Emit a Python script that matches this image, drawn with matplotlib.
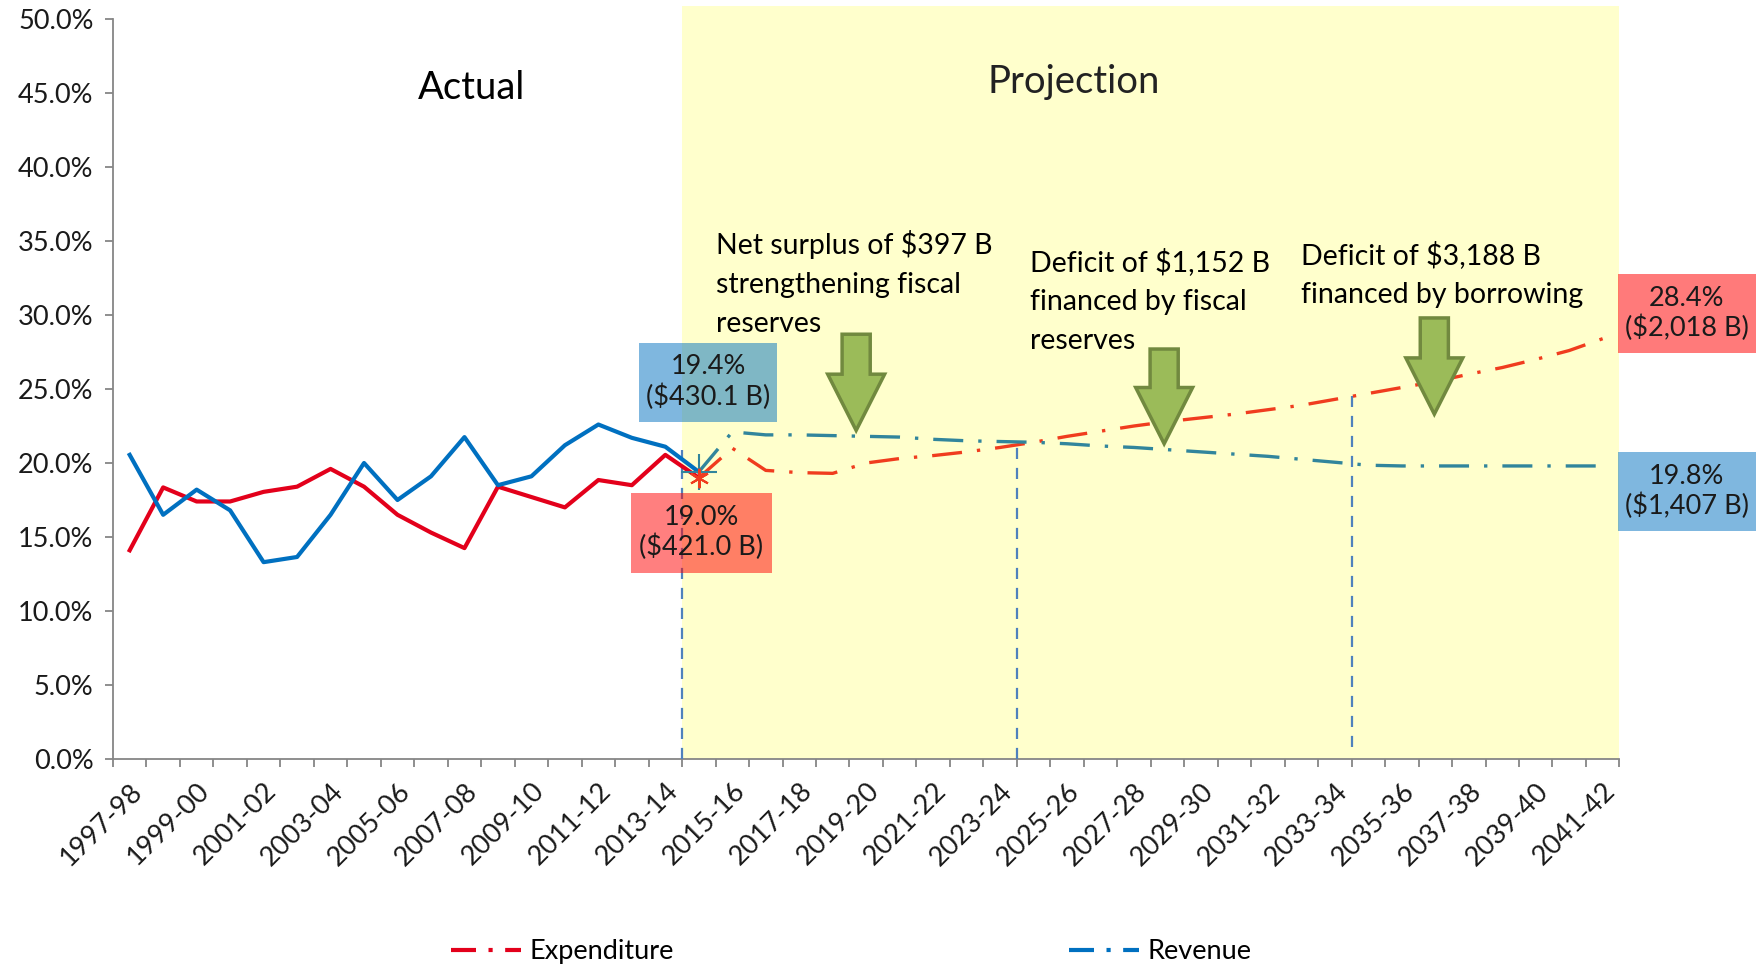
import numpy as np
import matplotlib.pyplot as plt
from matplotlib.patches import Rectangle, FancyArrow
from matplotlib.lines import Line2D

plt.rcParams['font.family'] = ['Lato', 'DejaVu Sans']

# fiscal years on the category axis
fiscal_years = [f"{y}-{str(y + 1)[-2:]}" for y in range(1997, 2042)]

# actual figures, 1997-98 .. 2014-15 (% of GDP)
exp_actual = [14.1, 18.35, 17.4, 17.4, 18.05, 18.4, 19.6, 18.4, 16.5, 15.3,
              14.25, 18.4, 17.7, 17.0, 18.85, 18.5, 20.55, 19.0]
rev_actual = [20.55, 16.5, 18.2, 16.8, 13.3, 13.65, 16.5, 20.0, 17.5, 19.1,
              21.75, 18.5, 19.1, 21.2, 22.6, 21.7, 21.1, 19.4]

# projections, 2014-15 .. 2041-42
exp_proj = [19.0, 21.0, 19.5, 19.35, 19.3, 20.0, 20.3, 20.5, 20.75, 21.05,
            21.4, 21.8, 22.15, 22.5, 22.8, 23.05, 23.3, 23.6, 23.9, 24.3,
            24.7, 25.1, 25.5, 26.0, 26.45, 27.0, 27.6, 28.4]
rev_proj = [19.4, 22.1, 21.9, 21.9, 21.85, 21.8, 21.75, 21.6, 21.5, 21.45,
            21.4, 21.3, 21.15, 21.05, 20.9, 20.75, 20.6, 20.45, 20.25, 20.05,
            19.85, 19.8, 19.8, 19.8, 19.8, 19.8, 19.8, 19.8]

proj_start = fiscal_years.index("2014-15")
divider_years = ["2014-15", "2024-25", "2034-35"]
divider_top = [20.9, 21.4, 24.5]

notes = ["Net surplus of $397 B\nstrengthening fiscal\nreserves",
         "Deficit of $1,152 B\nfinanced by fiscal\nreserves",
         "Deficit of $3,188 B\nfinanced by borrowing"]

x_act = np.arange(len(exp_actual))
x_proj = np.arange(proj_start, proj_start + len(exp_proj))

fig = plt.figure(figsize=(17.62, 9.68), dpi=100)
ax = fig.add_axes([0.0641, 0.2159, 0.855, 0.7645])

ax.set_xlim(-0.5, len(fiscal_years) - 0.5)
ax.set_ylim(0, 50)

# projection shading
ax.add_patch(Rectangle((proj_start - 0.5, 0), len(fiscal_years) - proj_start, 50.9,
                       facecolor='#FFFFCC', edgecolor='none', zorder=0, clip_on=False))

# divider lines
for yr, top, bot in zip(divider_years, divider_top, [0, 0, 0.8]):
    xi = fiscal_years.index(yr) - 0.5
    ax.plot([xi, xi], [bot, top], color='#4F81BD', lw=1.6, ls=(0, (5, 4)), zorder=3)

dashdot = (0, (9, 4.5, 1, 4.5))
ax.plot(x_act, exp_actual, color='#E3001B', lw=3, zorder=4)
ax.plot(x_act, rev_actual, color='#0070C0', lw=3, zorder=4)
ax.plot(x_proj, exp_proj, color='#F03C1E', lw=2.4, ls=dashdot, zorder=4)
ax.plot(x_proj, rev_proj, color='#31859C', lw=2.4, ls=dashdot, zorder=4)
ax.plot(x_proj[0], rev_proj[0], marker='+', ms=26, mew=1.5, color='#31859C', zorder=6)
ax.plot(x_proj[0], exp_proj[0], marker=(6, 2, 0), ms=14, mew=1.5, color='#F03C1E', zorder=6)

# value boxes
boxes = [
    ((15.2, 22.8), 4.15, 5.3, '#0070C0', 0.5, "19.4%\n($430.1 B)"),
    ((14.98, 12.6), 4.2, 5.4, '#FF0000', 0.5, "19.0%\n($421.0 B)"),
    ((44.45, 27.4), 4.12, 5.4, '#FF0000', 0.52, "28.4%\n($2,018 B)"),
    ((44.45, 15.4), 4.12, 5.35, '#0070C0', 0.5, "19.8%\n($1,407 B)"),
]
for (bx, by), bw, bh, col, al, txt in boxes:
    ax.add_patch(Rectangle((bx, by), bw, bh, facecolor=col, alpha=al,
                           edgecolor='none', zorder=5, clip_on=False))
    ax.text(bx + bw / 2, by + bh / 2, txt, ha='center', va='center', fontsize=19.5,
            color='#1a1a1a', linespacing=1.2, zorder=5.5, clip_on=False)

# arrows
for xc, top, tip in [(21.7, 28.7, 22.2), (30.9, 27.7, 21.3), (38.97, 29.8, 23.3)]:
    ax.add_patch(FancyArrow(xc, top, 0, tip - top, width=0.84, head_width=1.7,
                            head_length=3.8, length_includes_head=True,
                            facecolor='#9BBB59', edgecolor='#71893F', lw=2.5, zorder=5))

for (tx, ty), note in zip([(17.5, 35.75), (26.9, 34.55), (35.0, 35.0)], notes):
    ax.text(tx, ty, note, ha='left', va='top', fontsize=20.5, linespacing=1.62, zorder=6)

ax.text(10.2, 45.35, "Actual", ha='center', va='center', fontsize=27.5)
ax.text(28.2, 45.75, "Projection", ha='center', va='center', fontsize=27.5, color='#222222')

# axes styling
for s in ['top', 'right']:
    ax.spines[s].set_visible(False)
for s in ['left', 'bottom']:
    ax.spines[s].set_color('#868686')
    ax.spines[s].set_linewidth(1.3)

ax.set_yticks(np.arange(0, 51, 5))
ax.set_yticklabels([f"{v:.1f}%" for v in np.arange(0, 51, 5)], fontsize=19.5, color='#1a1a1a')
ax.tick_params(axis='y', length=6, color='#868686', width=1.3, pad=8)

ax.set_xticks(np.arange(-0.5, len(fiscal_years)), minor=False)
ax.set_xticklabels([])
ax.tick_params(axis='x', which='major', length=6, color='#868686', width=1.3)
lab_idx = np.arange(0, len(fiscal_years), 2)
ax.set_xticks(lab_idx, minor=True)
ax.set_xticklabels([fiscal_years[i] for i in lab_idx], minor=True, rotation=45,
                   ha='right', rotation_mode='anchor', fontsize=19.5, color='#1a1a1a')
ax.tick_params(axis='x', which='minor', length=0, pad=14)

handles = [Line2D([], [], color='#E3001B', lw=3, ls=(0, (6, 3, 1, 3))),
           Line2D([], [], color='#0070C0', lw=3, ls=(0, (6, 3, 1, 3)))]
fig.legend(handles, ['Expenditure', 'Revenue'], loc='center', bbox_to_anchor=(0.483, 0.017),
           ncol=2, frameon=False, fontsize=19.5, handlelength=2.6, columnspacing=14.6,
           handletextpad=0.3)

fig.savefig('out.png', dpi=100)
